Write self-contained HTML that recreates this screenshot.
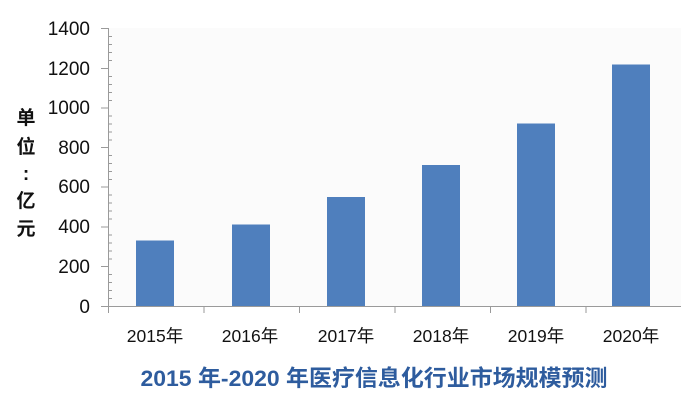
<!DOCTYPE html>
<html><head><meta charset="utf-8"><style>
html,body{margin:0;padding:0;background:#fff;}
svg{display:block;font-family:"Liberation Sans","Noto Sans CJK SC",sans-serif;}
</style></head><body>
<svg width="698" height="412" viewBox="0 0 698 412" xmlns="http://www.w3.org/2000/svg">
<rect x="108" y="28" width="573" height="278" fill="#fbfbfb"/>
<g fill="#4f7fbd">
<rect x="136" y="240.5" width="38" height="65.5"/>
<rect x="232" y="224.5" width="38" height="81.5"/>
<rect x="327" y="197" width="38" height="109"/>
<rect x="422" y="165" width="38" height="141"/>
<rect x="517" y="123.5" width="38" height="182.5"/>
<rect x="612" y="64.5" width="38" height="241.5"/>
</g>
<g stroke="#9a9a9a" stroke-width="1">
<line x1="108.5" y1="28" x2="108.5" y2="306"/>
<line x1="108" y1="306.5" x2="681" y2="306.5"/>
<path d="M101 28.5H108M101 68.5H108M101 108H108M101 147.5H108M101 187H108M101 227H108M101 266.5H108M101 306.5H108"/>
<path d="M108 36.5h4M108 44.5h4M108 52.5h4M108 60.5h4M108 76.5h4M108 84.5h4M108 92.5h4M108 100.5h4M108 116h4M108 124h4M108 132h4M108 140h4M108 155.5h4M108 163.5h4M108 171.5h4M108 179.5h4M108 195h4M108 203h4M108 211h4M108 219h4M108 235h4M108 243h4M108 251h4M108 259h4M108 274.5h4M108 282.5h4M108 290.5h4M108 298.5h4"/>
<path d="M108.5 306V313M204 306V313M299.5 306V313M395 306V313M490.5 306V313M586 306V313"/>
</g>
<g font-size="19" fill="#111" text-anchor="end">
<text x="90" y="35">1400</text>
<text x="90" y="75">1200</text>
<text x="90" y="114">1000</text>
<text x="90" y="154">800</text>
<text x="90" y="193">600</text>
<text x="90" y="233">400</text>
<text x="90" y="273">200</text>
<text x="90" y="313">0</text>
</g>
<g font-size="17.5" fill="#111" text-anchor="middle">
<text x="155" y="342">2015年</text>
<text x="250" y="342">2016年</text>
<text x="346" y="342">2017年</text>
<text x="441" y="342">2018年</text>
<text x="536" y="342">2019年</text>
<text x="631" y="342">2020年</text>
</g>
<g font-size="19" font-weight="bold" fill="#111" text-anchor="middle">
<text x="26" y="124">单</text>
<text x="26" y="153">位</text>
<text x="26" y="180">:</text>
<text x="26" y="207">亿</text>
<text x="26" y="235">元</text>
</g>
<text x="374" y="386" font-size="22.5" font-weight="bold" fill="#2e5c9e" text-anchor="middle" textLength="467" lengthAdjust="spacingAndGlyphs">2015 年-2020 年医疗信息化行业市场规模预测</text>
</svg>
</body></html>
